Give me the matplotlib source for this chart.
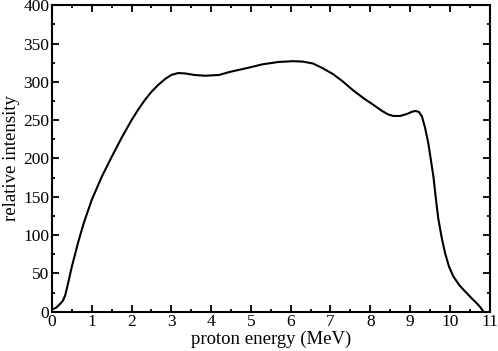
import matplotlib
matplotlib.use("Agg")
import matplotlib.pyplot as plt
from matplotlib.ticker import MultipleLocator

plt.rcParams['font.family'] = ['Liberation Serif', 'DejaVu Serif']

# values
energy = [0.0, 0.1, 0.2, 0.27, 0.33, 0.4, 0.5, 0.66, 0.8, 1.0, 1.25, 1.5, 1.75,
          2.0, 2.17, 2.33, 2.5, 2.67, 2.85, 3.0, 3.17, 3.35, 3.58, 3.85, 4.2,
          4.47, 4.9, 5.3, 5.7, 6.06, 6.3, 6.56, 6.8, 7.07, 7.3, 7.57, 7.85,
          8.08, 8.3, 8.45, 8.58, 8.75, 8.92, 9.05, 9.13, 9.22, 9.3, 9.38, 9.46,
          9.52, 9.59, 9.65, 9.71, 9.8, 9.88, 9.98, 10.09, 10.25, 10.43, 10.58,
          10.68, 10.78, 10.85]
intensity = [3, 5, 10, 14, 21, 36, 59, 91, 116, 146, 176, 202, 227,
             250, 264, 276, 287, 296, 304, 309, 311.5, 311, 309, 308, 309,
             313, 318, 323, 326, 327, 326.5, 324, 318, 310, 301, 289, 278,
             270, 262, 257.5, 255.5, 255.5, 258, 261, 262, 261, 255, 240, 220,
             200, 176, 148, 122, 96, 77, 59, 46, 34, 24, 16, 11, 5, 0]

fig = plt.figure(figsize=(4.98, 3.51), dpi=100)
ax = fig.add_axes([0.1044, 0.112, 0.8786, 0.873])
ax.plot(energy, intensity, color='black', lw=1.5)

ax.set_xlim(0, 11)
ax.set_ylim(0, 400)
ax.xaxis.set_major_locator(MultipleLocator(1))
ax.xaxis.set_minor_locator(MultipleLocator(0.5))
ax.yaxis.set_major_locator(MultipleLocator(50))
ax.yaxis.set_minor_locator(MultipleLocator(25))
ax.tick_params(which='both', direction='in', top=True, right=True,
               width=1.3, labelsize=12.5, pad=2)
ax.tick_params(which='major', length=5)
ax.tick_params(which='minor', length=2.5)
for s in ax.spines.values():
    s.set_linewidth(1.5)

ax.set_xlabel('proton energy (MeV)', fontsize=13.5, labelpad=0)
ax.set_ylabel('relative intensity', fontsize=13.5, labelpad=2)

fig.savefig('out.png', dpi=100)
